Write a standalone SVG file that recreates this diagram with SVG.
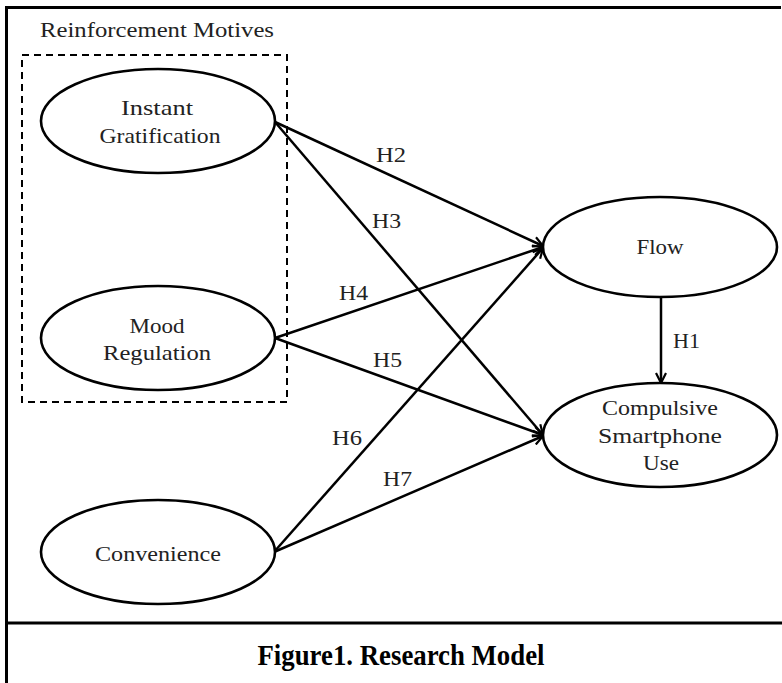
<svg xmlns="http://www.w3.org/2000/svg" width="782" height="683" viewBox="0 0 782 683">
<style>
.frame{stroke:#000;stroke-width:3;fill:none}
.node{fill:#fff;stroke:#000;stroke-width:2.6}
.lbl{font-family:"Liberation Serif","Times New Roman",serif;font-size:22px;fill:#222;text-anchor:middle}
.h{font-family:"Liberation Serif","Times New Roman",serif;font-size:21px;fill:#222}
.edge{stroke:#000;stroke-width:2.5;fill:none;marker-end:url(#arr)}
</style>
<defs>
<marker id="arr" viewBox="0 0 12 12" refX="11" refY="6" markerWidth="12" markerHeight="12" markerUnits="userSpaceOnUse" orient="auto">
<path d="M1,1 L11,6 L1,11" fill="none" stroke="#000" stroke-width="2.2"/>
</marker>
</defs>
<rect width="782" height="683" fill="#fff"/>
<g id="frame">
<line class="frame" x1="6" y1="7.5" x2="781" y2="7.5"/>
<line class="frame" x1="6.5" y1="6" x2="6.5" y2="683"/>
<line class="frame" x1="6" y1="623" x2="782" y2="623"/>
</g>
<g id="group-reinforcement">
<text x="40" y="37" font-family="Liberation Serif, Times New Roman, serif" font-size="20" fill="#222" textLength="234" lengthAdjust="spacingAndGlyphs">Reinforcement Motives</text>
<rect x="22" y="55" width="265" height="347" fill="none" stroke="#000" stroke-width="2" stroke-dasharray="7,5"/>
</g>
<g id="connectors">
<line class="edge" x1="275" y1="122" x2="543" y2="246"/>
<line class="edge" x1="275" y1="122" x2="543" y2="435"/>
<line class="edge" x1="275" y1="338" x2="543" y2="247"/>
<line class="edge" x1="275" y1="338" x2="543" y2="435"/>
<line class="edge" x1="274" y1="552" x2="543" y2="248"/>
<line class="edge" x1="274" y1="552" x2="543" y2="436"/>
<line class="edge" x1="661" y1="297" x2="661" y2="383"/>
<text class="h" x="376" y="162" textLength="30" lengthAdjust="spacingAndGlyphs">H2</text>
<text class="h" x="372" y="228" textLength="29" lengthAdjust="spacingAndGlyphs">H3</text>
<text class="h" x="339" y="300" textLength="29" lengthAdjust="spacingAndGlyphs">H4</text>
<text class="h" x="373" y="367" textLength="29" lengthAdjust="spacingAndGlyphs">H5</text>
<text class="h" x="332" y="445" textLength="30" lengthAdjust="spacingAndGlyphs">H6</text>
<text class="h" x="383" y="486" textLength="29" lengthAdjust="spacingAndGlyphs">H7</text>
<text class="h" x="673" y="348" textLength="27" lengthAdjust="spacingAndGlyphs">H1</text>
</g>
<g id="instant-gratification">
<ellipse class="node" cx="158" cy="121" rx="117" ry="52"/>
<text class="lbl" x="157" y="115" textLength="72" lengthAdjust="spacingAndGlyphs">Instant</text>
<text class="lbl" x="160" y="143" textLength="121" lengthAdjust="spacingAndGlyphs">Gratification</text>
</g>
<g id="mood-regulation">
<ellipse class="node" cx="158" cy="338" rx="117" ry="52"/>
<text class="lbl" x="157" y="333" textLength="55" lengthAdjust="spacingAndGlyphs">Mood</text>
<text class="lbl" x="157" y="360" textLength="108" lengthAdjust="spacingAndGlyphs">Regulation</text>
</g>
<g id="convenience">
<ellipse class="node" cx="158" cy="552" rx="117" ry="52"/>
<text class="lbl" x="158" y="561" textLength="126" lengthAdjust="spacingAndGlyphs">Convenience</text>
</g>
<g id="flow">
<ellipse class="node" cx="660" cy="247" rx="117" ry="50"/>
<text class="lbl" x="660" y="254" textLength="47" lengthAdjust="spacingAndGlyphs">Flow</text>
</g>
<g id="compulsive-smartphone-use">
<ellipse class="node" cx="660" cy="435" rx="117" ry="52"/>
<text class="lbl" x="660" y="415" textLength="116" lengthAdjust="spacingAndGlyphs">Compulsive</text>
<text class="lbl" x="660" y="443" textLength="124" lengthAdjust="spacingAndGlyphs">Smartphone</text>
<text class="lbl" x="661" y="470" textLength="36" lengthAdjust="spacingAndGlyphs">Use</text>
</g>
<g id="caption">
<text x="401" y="665" font-family="Liberation Serif, Times New Roman, serif" font-size="29" font-weight="bold" fill="#000" text-anchor="middle" textLength="287" lengthAdjust="spacingAndGlyphs">Figure1. Research Model</text>
</g>
</svg>
